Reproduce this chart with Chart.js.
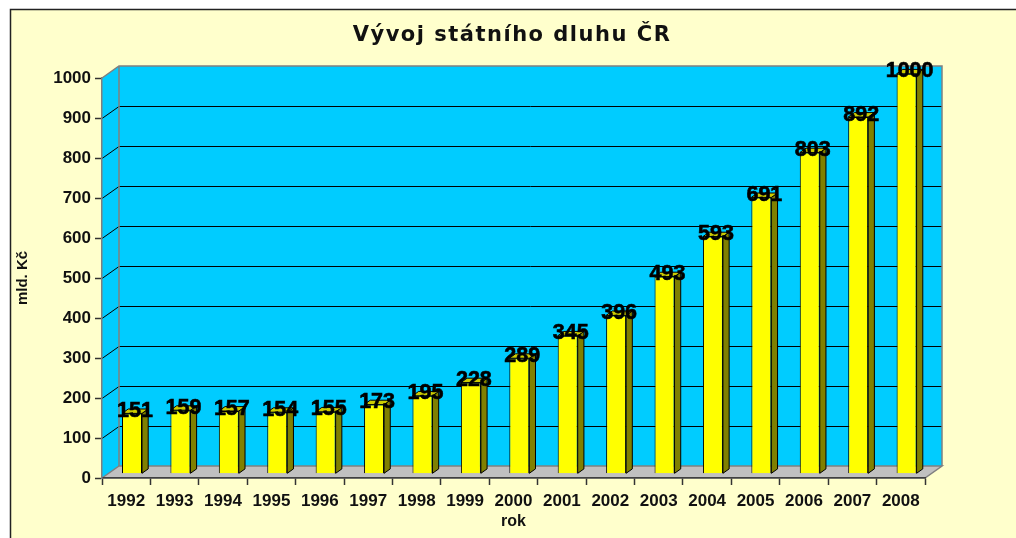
<!DOCTYPE html>
<html>
<head>
<meta charset="utf-8">
<script src="https://cdn.jsdelivr.net/npm/chart.js@4/dist/chart.umd.min.js"></script>
<style>
    html, body { margin: 0; padding: 0; background: #fff; }
</style>
</head>
<body>
<canvas id="debtChart" width="1016" height="538"></canvas>
<script>
// data
const years = ['1992', '1993', '1994', '1995', '1996', '1997', '1998', '1999', '2000',
    '2001', '2002', '2003', '2004', '2005', '2006', '2007', '2008'];
const debt = [151, 159, 157, 154, 155, 173, 195, 228, 289, 345, 396, 493, 593, 691, 803, 892, 1000];
const yMin = 0;
const yMax = 1000;
const yStep = 100;

// 3d look
const wallDX = 17, wallDY = 12;
const barShiftX = 5.8, barShiftY = 4.2;
const barDX = 6.2, barDY = 4.4;
const FONT = '"Liberation Sans", Arial, sans-serif';

function poly(ctx, pts, fill, stroke, lw) {
    ctx.beginPath();
    ctx.moveTo(pts[0][0], pts[0][1]);
    for (let i = 1; i < pts.length; i++) ctx.lineTo(pts[i][0], pts[i][1]);
    ctx.closePath();
    if (fill) { ctx.fillStyle = fill; ctx.fill(); }
    if (stroke) { ctx.strokeStyle = stroke; ctx.lineWidth = lw || 1; ctx.stroke(); }
}

const wallPlugin = {
    id: 'wall3d',
    beforeDraw(chart) {
        const { ctx, chartArea: a } = chart;
        const W = chart.width, H = chart.height;
        ctx.save();
        // frame
        ctx.fillStyle = '#fff';
        ctx.fillRect(0, 0, W, H);
        ctx.fillStyle = '#FFFFCC';
        ctx.fillRect(10, 9, W, H);
        ctx.strokeStyle = '#222';
        ctx.lineWidth = 1.5;
        ctx.beginPath();
        ctx.moveTo(10.5, H);
        ctx.lineTo(10.5, 9.5);
        ctx.lineTo(W, 9.5);
        ctx.stroke();

        // title
        ctx.font = 'bold 21px "DejaVu Sans", sans-serif';
        ctx.letterSpacing = '1.5px';
        ctx.fillStyle = '#111';
        ctx.textAlign = 'center';
        ctx.textBaseline = 'alphabetic';
        ctx.fillText('Vývoj státního dluhu ČR', 512, 41);
        ctx.letterSpacing = '0px';

        const L = a.left, R = a.right, T = a.top, B = a.bottom;
        // left wall + back wall
        poly(ctx, [[L, T], [L + wallDX, T - wallDY], [L + wallDX, B - wallDY], [L, B]], '#00CCFF');
        ctx.fillStyle = '#00CCFF';
        ctx.fillRect(L + wallDX, T - wallDY, R - L, B - T);

        // gridlines
        const ys = chart.scales.y;
        ctx.strokeStyle = '#000';
        ctx.lineWidth = 1;
        ys.ticks.forEach(t => {
            if (t.value <= yMin || t.value >= yMax) return;
            const py = Math.round(ys.getPixelForValue(t.value)) + 0.5;
            ctx.beginPath();
            ctx.moveTo(L, py);
            ctx.lineTo(L + wallDX, py - wallDY);
            ctx.lineTo(R + wallDX, py - wallDY);
            ctx.stroke();
        });

        // wall edges
        ctx.strokeStyle = '#808080';
        ctx.lineWidth = 1.5;
        ctx.beginPath();
        ctx.moveTo(L, T);
        ctx.lineTo(L + wallDX, T - wallDY);
        ctx.lineTo(R + wallDX, T - wallDY);
        ctx.lineTo(R + wallDX, B - wallDY);
        ctx.moveTo(L + wallDX, T - wallDY);
        ctx.lineTo(L + wallDX, B - wallDY);
        ctx.stroke();

        // floor
        poly(ctx, [[L, B], [L + wallDX, B - wallDY], [R + wallDX, B - wallDY], [R, B]], '#C0C0C0', '#808080', 1.5);
        ctx.restore();
    }
};

const barsPlugin = {
    id: 'bars3d',
    beforeDatasetsDraw(chart) {
        chart.ctx.save();
        chart.ctx.translate(barShiftX, -barShiftY);
    },
    afterDatasetsDraw(chart) {
        const ctx = chart.ctx;
        const meta = chart.getDatasetMeta(0);
        meta.data.forEach(bar => {
            const { x, y, base, width } = bar.getProps(['x', 'y', 'base', 'width'], true);
            const l = x - width / 2, r = x + width / 2;
            poly(ctx, [[r, y], [r + barDX, y - barDY], [r + barDX, base - barDY], [r, base]], '#808000', '#000', 1);
            poly(ctx, [[l, y], [l + barDX, y - barDY], [r + barDX, y - barDY], [r, y]], '#CCCC00', '#000', 1);
        });
        // value labels
        ctx.font = 'bold 21.5px ' + FONT;
        ctx.fillStyle = '#000';
        ctx.strokeStyle = '#000';
        ctx.lineWidth = 0.6;
        ctx.textAlign = 'center';
        ctx.textBaseline = 'alphabetic';
        meta.data.forEach((bar, i) => {
            ctx.fillText(String(debt[i]), bar.x + 3, bar.y + 3.6);
            ctx.strokeText(String(debt[i]), bar.x + 3, bar.y + 3.6);
        });
        ctx.restore();
    }
};

new Chart(document.getElementById('debtChart'), {
    type: 'bar',
    data: {
        labels: years,
        datasets: [{
            label: 'mld. Kč',
            data: debt,
            backgroundColor: '#FFFF00',
            borderColor: '#000',
            borderWidth: 1,
            barPercentage: 0.413,
            categoryPercentage: 1,
            clip: false,
        }]
    },
    options: {
        responsive: false,
        animation: false,
        layout: { padding: { top: 78, right: 91, left: 0, bottom: 0 } },
        plugins: {
            legend: { display: false },
            title: { display: false },
            tooltip: { enabled: false },
        },
        scales: {
            x: {
                grid: { drawOnChartArea: false, offset: true, tickLength: 7, tickColor: '#333', tickWidth: 1.5 },
                border: { color: '#404040', width: 1.5 },
                ticks: {
                    color: '#111', padding: 6, maxRotation: 0, autoSkip: false,
                    font: { family: FONT, weight: 'bold', size: 17 },
                },
                title: {
                    display: true, text: 'rok', color: '#111',
                    font: { family: FONT, weight: 'bold', size: 16 },
                    padding: { top: 0, bottom: 7 },
                },
                afterFit: s => { s.height = 60; },
            },
            y: {
                min: yMin,
                max: yMax,
                grid: { drawOnChartArea: false, tickLength: 7, tickColor: '#333', tickWidth: 1.5 },
                border: { color: '#808080', width: 1.5 },
                ticks: {
                    stepSize: yStep, color: '#111', padding: 4,
                    font: { family: FONT, weight: 'bold', size: 17 },
                    callback: v => String(v),
                },
                title: {
                    display: true, text: 'mld. Kč', color: '#111',
                    font: { family: FONT, weight: 'bold', size: 15 },
                    padding: { top: 13.5, bottom: 0 },
                },
                afterFit: s => { s.width = 102; },
            }
        }
    },
    plugins: [wallPlugin, barsPlugin]
});
</script>
</body>
</html>
